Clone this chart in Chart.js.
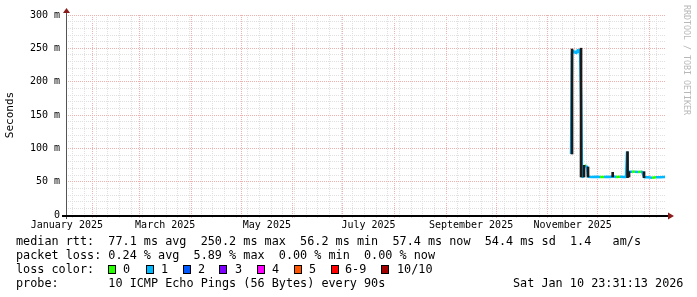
<!DOCTYPE html>
<html lang="en">
<head>
<meta charset="UTF-8">
<title>median rtt</title>
<style>
  body { margin: 0; background: #fff; }
  .wrap {
    position: relative;
    width: 697px;
    height: 297px;
    overflow: hidden;
    background: #fff;
    font-family: "DejaVu Sans Mono", monospace;
    color: #000;
  }
  canvas { position: absolute; left: 0; top: 0; }
  .legend {
    position: absolute;
    left: 16px;
    top: 234px;
    font-size: 11.8px;
    line-height: 14px;
    white-space: pre;
  }
  .abs { position: absolute; font-size: 11.8px; line-height: 14px; white-space: pre; }
  .box {
    position: absolute;
    top: 265px;
    width: 8px;
    height: 9px;
    box-sizing: border-box;
    border: 1px solid #000;
  }
  /* texte vertical a droite */
  .credit {
    position: absolute;
    left: 682px;
    top: 5px;
    font-size: 8.3px;
    color: #b8b8b8;
    writing-mode: vertical-rl;
    white-space: pre;
  }
</style>
</head>
<body>
<div class="wrap" id="wrap">
  <canvas id="rtt" width="697" height="297"></canvas>
  <div class="credit">RRDTOOL / TOBI OETIKER</div>
  <div class="legend">median rtt:  77.1 ms avg  250.2 ms max  56.2 ms min  57.4 ms now  54.4 ms sd  1.4   am/s
packet loss: 0.24 % avg  5.89 % max  0.00 % min  0.00 % now
loss color:
probe:       10 ICMP Echo Pings (56 Bytes) every 90s</div>
  <div class="abs" style="left:513px; top:276px;">Sat Jan 10 23:31:13 2026</div>
</div>

<script src="https://cdn.jsdelivr.net/npm/chart.js@4"></script>
<script>
  // ==== datos ====
  // eje x en dias desde 2025-01-01 00:00
  const xStart = 14.98;   // Jan 15 2025 23:31
  const xEnd = 374.98;    // Jan 10 2026 23:31

  const monthStarts = [31, 59, 90, 120, 151, 181, 212, 243, 273, 304, 334, 365];
  const monthLabelDays = [15.5, 74.5, 135.5, 196.5, 258, 319];
  const monthLabels = ['January 2025', 'March 2025', 'May 2025', 'July 2025', 'September 2025', 'November 2025'];

  // mediana (ms) y perdida (pings perdidos de 10)
  const sampleDays = [318.0, 318.6, 319.2, 319.8, 320.4, 321.0, 321.6, 322.2, 322.8, 323.4,
    324.0, 324.6, 325.2, 325.8, 326.4, 327.0, 327.6, 328.2, 330.6, 333.0,
    335.4, 337.8, 339.6, 341.4, 343.2, 345.0, 347.4, 349.8, 351.0, 351.6,
    352.2, 352.8, 354.6, 356.4, 358.2, 360.0, 360.6, 361.8, 364.2, 366.6,
    369.0, 371.4, 373.8, 374.4];
  const medianRtt = [91.5, 244, 247, 243, 246, 242, 245, 248, 243, 249,
    178, 57.5, 57, 71, 74.5, 74, 72, 57.5, 57, 57.5,
    57, 57, 57.5, 57, 58, 57, 57.5, 57, 57, 95,
    58, 65, 65, 65, 64.5, 65, 65, 56.5, 56.5, 56,
    56.5, 56.5, 57, 57];
  const lossCount = [1, 1, 1, 1, 1, 1, 1, 1, 1, 1,
    1, 1, 1, 1, 0, 1, 1, 1, 1, 1,
    0, 1, 1, 1, 1, 0, 1, 1, 1, 1,
    1, 1, 0, 1, 0, 1, 1, 1, 1, 0,
    1, 1, 1, 1];

  // columnas de humo oscuro (min / max)
  const spikeDays = [318.6, 324.0, 325.8, 328.2, 343.0, 351.9, 352.8, 361.8];
  const spikeLow = [91.5, 57, 57, 57, 57, 56, 57, 56];
  const spikeHigh = [249, 250.2, 74.5, 72, 64, 95, 65, 65];

  const lossLabels = ['0', '1', '2', '3', '4', '5', '6-9', '10/10'];
  const lossColors = ['#26ff00', '#00b8ff', '#0059ff', '#7e00ff', '#ff00ff', '#ff5500', '#ff0000', '#a10000'];
  const lossBoxX = [108, 146, 183, 219, 257, 294, 331, 381];
  const lossTextX = [123, 161, 198, 235, 272, 309, 345, 397];

  // ==== leyenda de colores ====
  const wrap = document.getElementById('wrap');
  lossLabels.forEach((l, i) => {
    const b = document.createElement('div');
    b.className = 'box';
    b.style.left = lossBoxX[i] + 'px';
    b.style.background = lossColors[i];
    wrap.appendChild(b);
    const t = document.createElement('div');
    t.className = 'abs';
    t.style.left = lossTextX[i] + 'px';
    t.style.top = '262px';
    t.textContent = l;
    wrap.appendChild(t);
  });

  // ==== grilla ====
  const minorGrid = '#e0e0e0';
  const majorGrid = '#efb0b0';
  const weekDays = [];
  for (let d = 19; d < xEnd; d += 7) {
    if (!monthStarts.includes(d)) weekDays.push(d);
  }
  const xGrid = weekDays.concat(monthStarts).sort((a, b) => a - b);
  const yGrid = [];
  for (let v = 0; v <= 300; v += 10) yGrid.push(v);

  const mono = 'DejaVu Sans Mono';

  // ejes con flechas
  const rrdAxes = {
    id: 'rrdAxes',
    afterDatasetsDraw(chart) {
      const { ctx, chartArea: a } = chart;
      ctx.save();
      ctx.strokeStyle = '#555';
      ctx.lineWidth = 1;
      ctx.beginPath();
      ctx.moveTo(a.left + 0.5, a.bottom + 4);
      ctx.lineTo(a.left + 0.5, a.top - 3);
      ctx.stroke();
      ctx.strokeStyle = '#000';
      ctx.lineWidth = 2;
      ctx.beginPath();
      ctx.moveTo(a.left - 4, a.bottom + 1);
      ctx.lineTo(a.right + 3, a.bottom + 1);
      ctx.stroke();
      ctx.fillStyle = '#8b1c1c';
      ctx.beginPath();
      ctx.moveTo(a.left - 3, a.top - 2);
      ctx.lineTo(a.left + 4, a.top - 2);
      ctx.lineTo(a.left + 0.5, a.top - 7);
      ctx.closePath();
      ctx.fill();
      ctx.beginPath();
      ctx.moveTo(a.right + 2, a.bottom - 2.5);
      ctx.lineTo(a.right + 2, a.bottom + 4.5);
      ctx.lineTo(a.right + 8, a.bottom + 1);
      ctx.closePath();
      ctx.fill();
      ctx.restore();
    }
  };

  new Chart(document.getElementById('rtt'), {
    type: 'line',
    data: {
      datasets: [
        {
          type: 'bar',
          label: 'smoke',
          order: 0,
          data: spikeDays.map((d, i) => ({ x: d, y: [spikeLow[i], spikeHigh[i]] })),
          backgroundColor: '#1a1a1a',
          barThickness: 2,
          borderWidth: 0
        },
        {
          label: 'median rtt',
          order: 1,
          data: sampleDays.map((d, i) => ({ x: d, y: medianRtt[i] })),
          borderWidth: 2.5,
          borderColor: lossColors[1],
          borderJoinStyle: 'bevel',
          pointRadius: 0,
          tension: 0,
          segment: {
            borderColor: c => lossColors[lossCount[c.p0DataIndex]]
          }
        }
      ]
    },
    options: {
      responsive: false,
      animation: false,
      devicePixelRatio: 1,
      layout: { padding: { left: 0, top: 15, right: 31, bottom: 62 } },
      plugins: {
        legend: { display: false },
        tooltip: { enabled: false }
      },
      scales: {
        x: {
          type: 'linear',
          min: xStart,
          max: xEnd,
          offset: false,
          afterBuildTicks: s => { s.ticks = xGrid.map(v => ({ value: v })); },
          afterFit: s => { s.height = 4; },
          ticks: { display: false },
          grid: {
            offset: false,
            color: c => monthStarts.includes(c.tick && c.tick.value) ? majorGrid : minorGrid,
            tickColor: c => monthStarts.includes(c.tick && c.tick.value) ? majorGrid : minorGrid,
            drawTicks: true,
            tickLength: 3
          },
          border: { display: false, dash: [1, 1] }
        },
        x2: {
          type: 'linear',
          position: 'bottom',
          min: xStart,
          max: xEnd,
          afterBuildTicks: s => { s.ticks = monthLabelDays.map(v => ({ value: v })); },
          afterFit: s => { s.height = 16; },
          ticks: {
            autoSkip: false,
            maxRotation: 0,
            padding: 0,
            color: '#000',
            font: { family: mono, size: 10 },
            callback: (v, i) => monthLabels[i]
          },
          grid: { display: false, drawTicks: false },
          border: { display: false }
        },
        y: {
          min: 0,
          max: 300,
          afterBuildTicks: s => { s.ticks = yGrid.map(v => ({ value: v })); },
          afterFit: s => { s.width = 66; },
          ticks: {
            autoSkip: false,
            padding: 6,
            color: '#000',
            font: { family: mono, size: 10 },
            callback: v => v % 50 === 0 ? (v === 0 ? '0' : v + ' m') : ''
          },
          grid: {
            drawTicks: false,
            color: c => c.tick && c.tick.value % 50 === 0 ? majorGrid : minorGrid
          },
          border: { display: false, dash: [1, 1] },
          title: {
            display: true,
            text: 'Seconds',
            color: '#000',
            font: { family: mono, size: 11 },
            padding: { top: 4, bottom: 0 }
          }
        }
      }
    },
    plugins: [rrdAxes]
  });
</script>
</body>
</html>
